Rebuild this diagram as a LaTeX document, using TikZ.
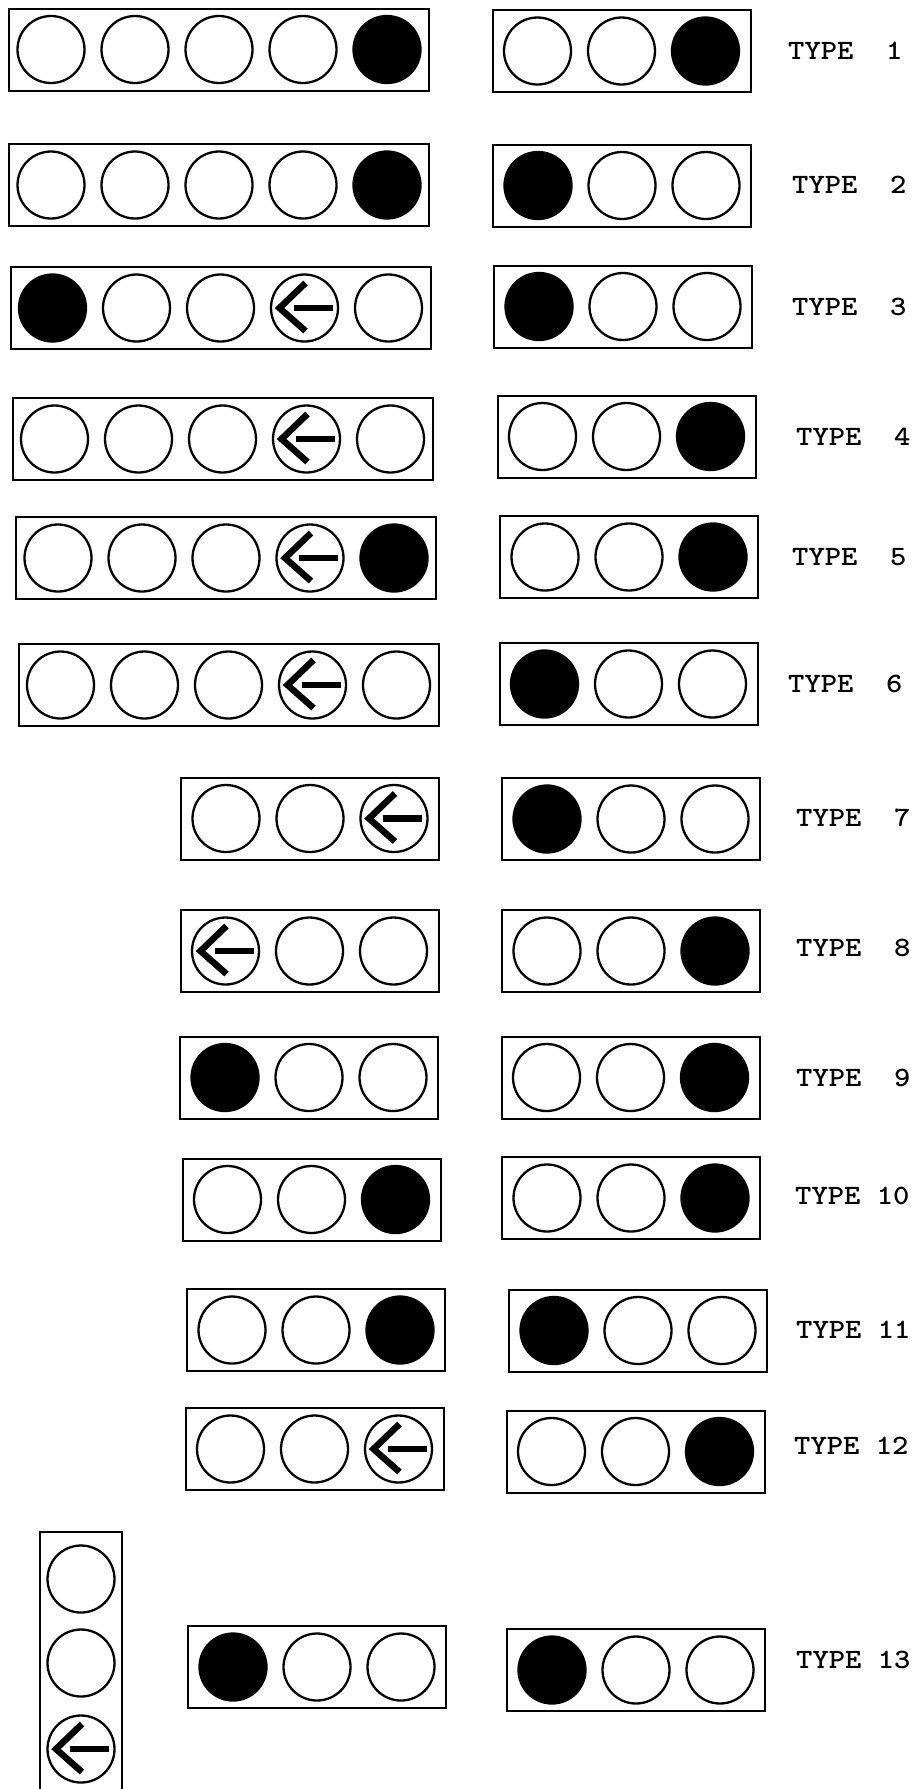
\documentclass[tikz,border=0pt]{standalone}
\usepackage{graphicx}
\tikzset{
  housing/.style={draw, line width=2pt, rectangle, minimum height=82pt, inner sep=0pt},
  arrowstroke/.style={line width=6.5pt, line cap=butt, line join=miter},
  lampO/.style={draw, circle, line width=2.3pt, minimum size=67pt, inner sep=0pt},
  lampF/.style={lampO, fill=black},
  lampA/.style={lampO, path picture={
    \draw[arrowstroke] ([shift={(1,-25)}]path picture bounding box.center)
      -- ([shift={(-25,0)}]path picture bounding box.center)
      -- ([shift={(1,23)}]path picture bounding box.center);
    \draw[arrowstroke] ([shift={(-11,0)}]path picture bounding box.center)
      -- ([shift={(28,0)}]path picture bounding box.center);}},
  typelabel/.style={anchor=west, inner sep=0pt, font=\fontsize{28}{28}\selectfont\ttfamily\bfseries}
}
\newcommand\fivebox[8]{%
  \node[housing, minimum width=420pt] (#1) at (#2,#3) {};
  \node[lamp#4] (#1-1) at (#2-168,#3) {};
  \node[lamp#5] (#1-2) at (#2-84,#3) {};
  \node[lamp#6] (#1-3) at (#2,#3) {};
  \node[lamp#7] (#1-4) at (#2+84,#3) {};
  \node[lamp#8] (#1-5) at (#2+168,#3) {};
}
\newcommand\threebox[6]{%
  \node[housing, minimum width=258pt] (#1) at (#2,#3) {};
  \node[lamp#4] (#1-1) at (#2-84,#3) {};
  \node[lamp#5] (#1-2) at (#2,#3) {};
  \node[lamp#6] (#1-3) at (#2+84,#3) {};
}
\newcommand\typelab[4]{\node[typelabel] (#1) at (#2,#3) {\scalebox{1.11}[1]{#4}};}
\begin{document}
\begin{tikzpicture}[x=1pt, y=-1pt]
\fill[white] (0,0) rectangle (913,1789);
\useasboundingbox (0,0) rectangle (913,1789);
% row 1
\fivebox{aL}{219}{49.5}{O}{O}{O}{O}{F}
\threebox{aR}{621.5}{51}{O}{O}{F}
\typelab{aT}{788}{51}{TYPE~~1}
% row 2
\fivebox{bL}{219}{185}{O}{O}{O}{O}{F}
\threebox{bR}{622}{185.5}{F}{O}{O}
\typelab{bT}{792}{185}{TYPE~~2}
% row 3
\fivebox{cL}{220.5}{308}{F}{O}{O}{A}{O}
\threebox{cR}{623}{306.5}{F}{O}{O}
\typelab{cT}{792}{307}{TYPE~~3}
% row 4
\fivebox{dL}{222.5}{439}{O}{O}{O}{A}{O}
\threebox{dR}{626.5}{436.5}{O}{O}{F}
\typelab{dT}{796}{437}{TYPE~~4}
% row 5
\fivebox{eL}{226}{558}{O}{O}{O}{A}{F}
\threebox{eR}{629}{557}{O}{O}{F}
\typelab{eT}{792}{557}{TYPE~~5}
% row 6
\fivebox{fL}{228.5}{685}{O}{O}{O}{A}{O}
\threebox{fR}{628.5}{684}{F}{O}{O}
\typelab{fT}{788}{684}{TYPE~~6}
% row 7
\threebox{gL}{310}{818.5}{O}{O}{A}
\threebox{gR}{631}{819}{F}{O}{O}
\typelab{gT}{796}{818}{TYPE~~7}
% row 8
\threebox{hL}{309.5}{951}{A}{O}{O}
\threebox{hR}{631}{951}{O}{O}{F}
\typelab{hT}{796}{948}{TYPE~~8}
% row 9
\threebox{iL}{309}{1077.5}{F}{O}{O}
\threebox{iR}{630.5}{1077.5}{O}{O}{F}
\typelab{iT}{796}{1078}{TYPE~~9}
% row 10
\threebox{jL}{311.5}{1199.5}{O}{O}{F}
\threebox{jR}{631}{1198}{O}{O}{F}
\typelab{jT}{795}{1196}{TYPE~10}
% row 11
\threebox{kL}{316}{1330}{O}{O}{F}
\threebox{kR}{638}{1330.5}{F}{O}{O}
\typelab{kT}{796}{1330}{TYPE~11}
% row 12
\threebox{lL}{314.5}{1449}{O}{O}{A}
\threebox{lR}{635.5}{1451.5}{O}{O}{F}
\typelab{lT}{794}{1446}{TYPE~12}
% row 13
\draw[line width=2pt] (40,1800) -- (40,1532) -- (122,1532) -- (122,1800);
\node[lampO] (mV-1) at (81,1579) {};
\node[lampO] (mV-2) at (81,1663) {};
\node[lampA] (mV-3) at (81,1749) {};
\threebox{mM}{317}{1667}{F}{O}{O}
\threebox{mR}{636}{1670}{F}{O}{O}
\typelab{mT}{796}{1660}{TYPE~13}
\end{tikzpicture}
\end{document}
